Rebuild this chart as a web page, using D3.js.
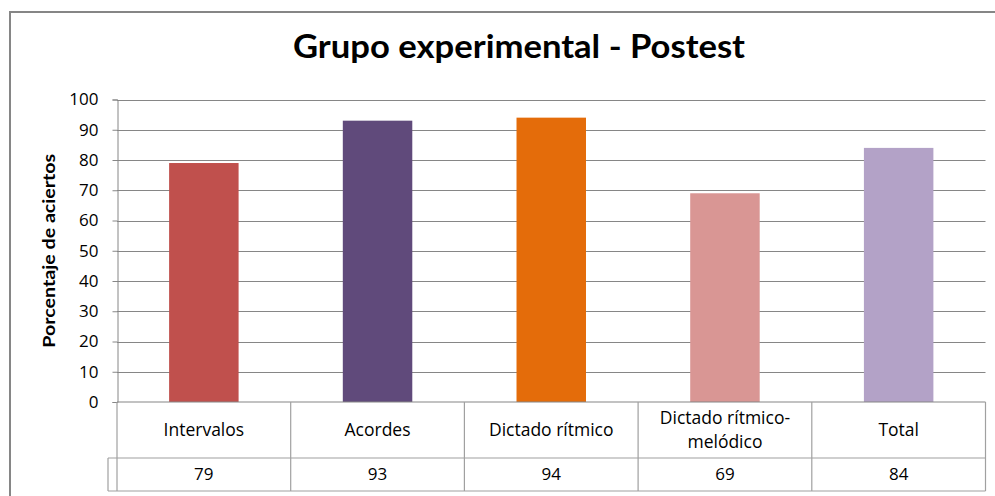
<!DOCTYPE html>
<html>
<head>
<meta charset="utf-8">
<script src="https://cdn.jsdelivr.net/npm/d3@7"></script>
<style>
  html, body { margin: 0; padding: 0; background: #fff; }
  svg { display: block; }
</style>
</head>
<body>
<svg id="chart" width="995" height="496"></svg>
<script>
// Chart data
const categories = ["Intervalos", "Acordes", "Dictado rítmico", "Dictado rítmico-melódico", "Total"];
const categoryLines = [["Intervalos"], ["Acordes"], ["Dictado rítmico"], ["Dictado rítmico-", "melódico"], ["Total"]];
const values = [79, 93, 94, 69, 84];
const barColors = ["#C0504D", "#604A7B", "#E46C0A", "#D99694", "#B3A2C7"];
const yTicks = [0, 10, 20, 30, 40, 50, 60, 70, 80, 90, 100];
const titleText = "Grupo experimental - Postest";
const yTitleText = "Porcentaje de aciertos";

const svg = d3.select("#chart");
const labelFont = "'Open Sans', 'Noto Sans', sans-serif";
const boldFont = "Lato, 'Open Sans', sans-serif";

// Plot area
const plot = { left: 117, right: 985.5, top: 99.5, bottom: 402 };
const row1Bottom = 458, row2Bottom = 491, keyLeft = 108;

// Outer chart frame
svg.append("rect")
  .attr("x", 10).attr("y", 12)
  .attr("width", 1000).attr("height", 500)
  .attr("fill", "#fff")
  .attr("stroke", "#868686").attr("stroke-width", 2);

const x = d3.scaleBand().domain(categories).range([plot.left, plot.right]).paddingInner(0).paddingOuter(0);
const y = d3.scaleLinear().domain([0, 100]).range([plot.bottom, plot.top]);

// Gridlines
svg.append("g")
  .selectAll("line")
  .data(yTicks.filter(d => d > 0))
  .join("line")
  .attr("x1", plot.left).attr("x2", plot.right)
  .attr("y1", d => Math.round(y(d)) + 0.5).attr("y2", d => Math.round(y(d)) + 0.5)
  .attr("stroke", "#868686").attr("stroke-width", 1);

// Y axis
const yAxis = d3.axisLeft(y).tickValues(yTicks).tickSize(5).tickPadding(14).tickFormat(d3.format("d"));
const gy = svg.append("g").attr("transform", `translate(${plot.left + 0.5},0)`).call(yAxis);
gy.select(".domain").attr("stroke", "#868686");
gy.selectAll(".tick line").attr("stroke", "#868686");
gy.selectAll(".tick text")
  .attr("font-family", labelFont).attr("font-size", 17).attr("fill", "#000");

// Bars
const barOffset = 0.3, barFrac = 0.4;
svg.append("g")
  .selectAll("rect")
  .data(categories)
  .join("rect")
  .attr("x", d => x(d) + x.bandwidth() * barOffset)
  .attr("width", x.bandwidth() * barFrac)
  .attr("y", (d, i) => y(values[i]))
  .attr("height", (d, i) => y(0) - y(values[i]))
  .attr("fill", (d, i) => barColors[i]);

// Data table
const table = svg.append("g").attr("stroke", "#A0A0A0").attr("stroke-width", 1.2);
// horizontal lines
table.append("line").attr("x1", plot.left).attr("x2", plot.right).attr("y1", plot.bottom).attr("y2", plot.bottom).attr("stroke", "#868686");
table.append("line").attr("x1", keyLeft).attr("x2", plot.right).attr("y1", row1Bottom).attr("y2", row1Bottom);
table.append("line").attr("x1", keyLeft).attr("x2", plot.right).attr("y1", row2Bottom).attr("y2", row2Bottom);
table.append("line").attr("x1", keyLeft).attr("x2", keyLeft).attr("y1", row1Bottom).attr("y2", row2Bottom);
// column dividers
const edges = categories.map(c => x(c)).concat([plot.right]);
table.selectAll("line.col")
  .data(edges)
  .join("line")
  .attr("class", "col")
  .attr("x1", d => d).attr("x2", d => d)
  .attr("y1", plot.bottom).attr("y2", row2Bottom);

// Category labels
const catG = svg.append("g")
  .attr("font-family", labelFont).attr("font-size", 17.5).attr("fill", "#000").attr("text-anchor", "middle");
categories.forEach((c, i) => {
  const lines = categoryLines[i];
  const cy = (plot.bottom + row1Bottom) / 2;
  const lh = 23.5;
  lines.forEach((ln, j) => {
    catG.append("text")
      .attr("x", x(c) + x.bandwidth() / 2)
      .attr("y", cy + (j - (lines.length - 1) / 2) * lh)
      .attr("dy", "0.35em")
      .text(ln);
  });
});

// Value row
svg.append("g")
  .attr("font-family", labelFont).attr("font-size", 17).attr("fill", "#000").attr("text-anchor", "middle")
  .selectAll("text")
  .data(categories)
  .join("text")
  .attr("x", d => x(d) + x.bandwidth() / 2)
  .attr("y", (row1Bottom + row2Bottom) / 2)
  .attr("dy", "0.35em")
  .text((d, i) => values[i]);

// Title
svg.append("text")
  .attr("x", 519).attr("y", 58)
  .attr("text-anchor", "middle")
  .attr("font-family", boldFont).attr("font-weight", "bold").attr("font-size", 32)
  .attr("textLength", 452).attr("lengthAdjust", "spacingAndGlyphs")
  .attr("fill", "#000")
  .text(titleText);

// Y axis title
svg.append("text")
  .attr("transform", `translate(55,${(plot.top + plot.bottom) / 2}) rotate(-90)`)
  .attr("text-anchor", "middle")
  .attr("font-family", boldFont).attr("font-weight", "bold").attr("font-size", 17)
  .attr("textLength", 194).attr("lengthAdjust", "spacingAndGlyphs")
  .attr("fill", "#000")
  .text(yTitleText);
</script>
</body>
</html>
